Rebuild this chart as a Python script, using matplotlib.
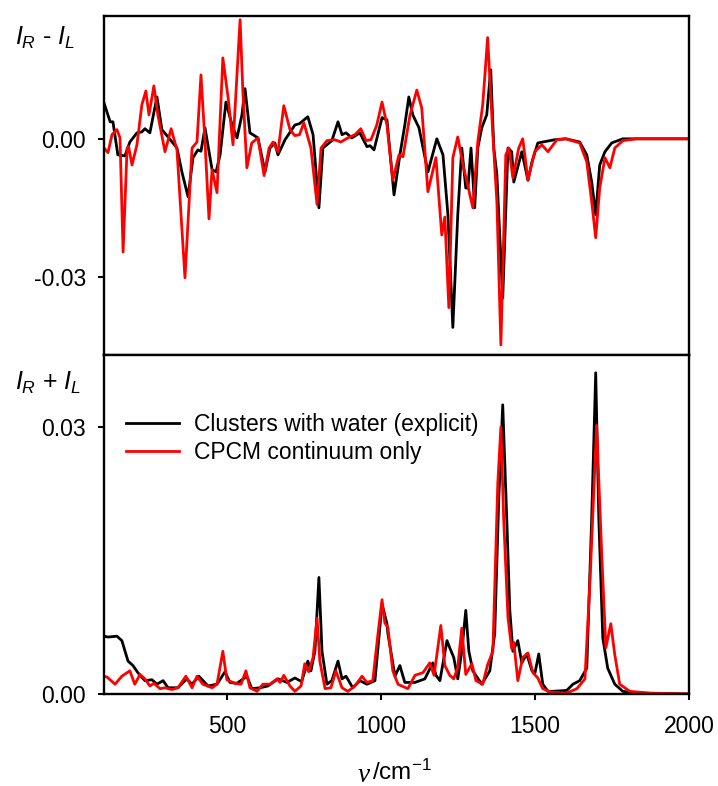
import matplotlib
matplotlib.use("Agg")
import matplotlib.pyplot as plt
import numpy as np

plt.rcParams['font.family'] = ['Liberation Sans', 'DejaVu Sans']
plt.rcParams['mathtext.fontset'] = 'custom'
plt.rcParams['mathtext.rm'] = 'Liberation Sans'
plt.rcParams['mathtext.it'] = 'Liberation Sans:italic'

# ---------------- data (wavenumber cm-1, intensity) ----------------
roa_explicit = [(100, 0.0078), (120, 0.0037), (129, 0.0037), (145, -0.0035), (168, -0.0037), (184, -0.0007),
                (207, 0.0013), (223, 0.0015), (233, 0.0022), (249, 0.0013), (272, 0.0091), (288, 0.0020),
                (308, 0.0004), (337, -0.0020), (353, -0.0072), (373, -0.0126), (389, -0.0041), (405, -0.0024),
                (415, -0.0027), (428, 0.0024), (451, -0.0067), (464, -0.0072), (477, -0.0035), (496, 0.0080),
                (516, 0.0030), (532, 0.0002), (548, 0.0052), (558, 0.0109), (574, 0.0013), (600, 0.0002),
                (623, -0.0072), (639, -0.0020), (655, -0.0009), (665, -0.0035), (688, -0.0002), (720, 0.0030),
                (735, 0.0033), (762, 0.0048), (779, 0.0009), (798, -0.0150), (811, -0.0020), (840, -0.0004),
                (860, 0.0037), (873, 0.0009), (886, 0.0013), (905, 0.0002), (931, 0.0013), (954, -0.0017),
                (964, -0.0015), (977, -0.0024), (1003, 0.0046), (1019, 0.0041), (1042, -0.0122), (1061, -0.0035),
                (1077, 0.0030), (1090, 0.0091), (1103, 0.0052), (1123, 0.0024), (1152, -0.0072), (1181, 0.0000),
                (1201, -0.0035), (1217, -0.0165), (1233, -0.0410), (1249, -0.0165), (1262, -0.0020), (1275, -0.0107),
                (1282, -0.0107), (1292, -0.0020), (1304, -0.0150), (1314, -0.0020), (1327, 0.0024), (1343, 0.0052),
                (1356, 0.0150), (1366, -0.0020), (1376, -0.0078), (1395, -0.0346), (1412, -0.0020), (1424, -0.0028),
                (1431, -0.0094), (1457, -0.0028), (1477, -0.0090), (1490, -0.0050), (1509, -0.0009), (1564, -0.0002),
                (1600, 0.0000), (1645, -0.0007), (1668, -0.0035), (1684, -0.0094), (1697, -0.0165), (1710, -0.0057),
                (1727, -0.0028), (1749, -0.0009), (1785, 0.0000), (2000, 0.0000)]

roa_cpcm = [(100, -0.0020), (113, -0.0030), (126, 0.0009), (142, 0.0020), (152, 0.0002), (162, -0.0246),
            (175, -0.0020), (180, -0.0017), (191, -0.0057), (207, -0.0013), (223, 0.0074), (236, 0.0104),
            (246, 0.0052), (262, 0.0115), (275, 0.0052), (298, -0.0028), (318, 0.0022), (337, -0.0024),
            (363, -0.0302), (386, -0.0020), (402, -0.0007), (415, 0.0139), (428, -0.0007), (441, -0.0174),
            (451, -0.0067), (467, -0.0117), (486, 0.0176), (503, 0.0090), (519, -0.0013), (542, 0.0259),
            (551, 0.0103), (564, -0.0063), (580, -0.0009), (600, 0.0002), (620, -0.0080), (636, -0.0020),
            (649, -0.0007), (665, -0.0028), (684, 0.0072), (704, 0.0020), (720, 0.0007), (735, 0.0009),
            (749, 0.0035), (772, -0.0020), (792, -0.0143), (805, -0.0020), (824, -0.0004), (850, -0.0002),
            (869, -0.0007), (892, 0.0002), (915, 0.0009), (934, 0.0022), (951, -0.0004), (967, -0.0002),
            (986, 0.0030), (1003, 0.0080), (1019, 0.0030), (1038, -0.0090), (1058, -0.0035), (1071, -0.0039),
            (1094, 0.0052), (1116, 0.0106), (1132, 0.0067), (1152, -0.0115), (1178, -0.0041), (1197, -0.0209),
            (1207, -0.0170), (1220, -0.0367), (1233, -0.0041), (1249, 0.0004), (1266, -0.0057), (1279, -0.0094),
            (1298, -0.0150), (1314, -0.0007), (1330, 0.0074), (1346, 0.0220), (1363, 0.0009), (1376, -0.0137),
            (1389, -0.0448), (1405, -0.0035), (1415, -0.0020), (1428, -0.0085), (1447, -0.0020), (1460, 0.0000),
            (1477, -0.0090), (1499, -0.0028), (1522, -0.0013), (1542, -0.0028), (1571, -0.0002), (1600, 0.0000),
            (1645, -0.0009), (1668, -0.0050), (1684, -0.0137), (1697, -0.0215), (1710, -0.0107), (1727, -0.0041),
            (1743, -0.0063), (1759, -0.0020), (1785, -0.0004), (1830, 0.0000), (2000, 0.0000)]

raman_explicit = [(100, 0.0065), (113, 0.0064), (142, 0.0065), (158, 0.0060), (178, 0.0037), (194, 0.0032),
                  (210, 0.0024), (233, 0.0015), (256, 0.0016), (272, 0.0011), (292, 0.0015), (308, 0.0007),
                  (340, 0.0007), (369, 0.0017), (386, 0.0011), (408, 0.0020), (438, 0.0009), (467, 0.0011),
                  (493, 0.0025), (509, 0.0013), (532, 0.0012), (564, 0.0020), (580, 0.0006), (607, 0.0007),
                  (632, 0.0009), (665, 0.0017), (694, 0.0013), (720, 0.0018), (742, 0.0014), (762, 0.0037),
                  (772, 0.0026), (785, 0.0048), (798, 0.0131), (808, 0.0048), (824, 0.0011), (840, 0.0015),
                  (860, 0.0037), (873, 0.0017), (886, 0.0020), (908, 0.0007), (931, 0.0015), (954, 0.0011),
                  (980, 0.0015), (1003, 0.0101), (1019, 0.0079), (1022, 0.0068), (1045, 0.0020), (1061, 0.0032),
                  (1077, 0.0013), (1110, 0.0013), (1142, 0.0017), (1168, 0.0035), (1178, 0.0021), (1191, 0.0015),
                  (1214, 0.0060), (1224, 0.0051), (1236, 0.0041), (1249, 0.0017), (1262, 0.0048), (1275, 0.0094),
                  (1285, 0.0048), (1298, 0.0026), (1327, 0.0011), (1353, 0.0026), (1369, 0.0068), (1382, 0.0218),
                  (1395, 0.0325), (1408, 0.0198), (1418, 0.0094), (1428, 0.0048), (1444, 0.0060), (1457, 0.0035),
                  (1473, 0.0045), (1490, 0.0026), (1500, 0.0024), (1512, 0.0045), (1525, 0.0011), (1542, 0.0003),
                  (1558, 0.0003), (1603, 0.0004), (1623, 0.0011), (1645, 0.0015), (1668, 0.0029), (1684, 0.0198),
                  (1697, 0.0361), (1707, 0.0198), (1720, 0.0063), (1736, 0.0029), (1759, 0.0011), (1785, 0.0003),
                  (1830, 0.0001), (2000, 0.0000)]

raman_cpcm = [(100, 0.0020), (110, 0.0019), (136, 0.0011), (158, 0.0020), (175, 0.0024), (184, 0.0026),
              (200, 0.0011), (217, 0.0022), (233, 0.0017), (249, 0.0009), (262, 0.0012), (282, 0.0006),
              (298, 0.0007), (321, 0.0005), (340, 0.0007), (366, 0.0020), (386, 0.0007), (402, 0.0020),
              (421, 0.0011), (451, 0.0007), (467, 0.0011), (486, 0.0048), (499, 0.0016), (525, 0.0012),
              (545, 0.0011), (561, 0.0026), (574, 0.0007), (597, 0.0003), (616, 0.0011), (639, 0.0011),
              (662, 0.0017), (672, 0.0013), (684, 0.0021), (704, 0.0009), (720, 0.0003), (740, 0.0009),
              (752, 0.0034), (765, 0.0025), (779, 0.0041), (792, 0.0085), (801, 0.0037), (818, 0.0006),
              (837, 0.0007), (853, 0.0026), (873, 0.0007), (892, 0.0003), (915, 0.0009), (938, 0.0020),
              (954, 0.0013), (973, 0.0015), (990, 0.0068), (1003, 0.0106), (1012, 0.0080), (1022, 0.0075),
              (1038, 0.0026), (1055, 0.0011), (1067, 0.0009), (1087, 0.0006), (1110, 0.0021), (1136, 0.0024),
              (1158, 0.0035), (1172, 0.0021), (1194, 0.0077), (1207, 0.0032), (1223, 0.0021), (1236, 0.0017),
              (1249, 0.0030), (1262, 0.0074), (1275, 0.0022), (1295, 0.0034), (1308, 0.0015), (1330, 0.0011),
              (1346, 0.0033), (1363, 0.0048), (1379, 0.0237), (1389, 0.0300), (1398, 0.0198), (1412, 0.0086),
              (1424, 0.0051), (1431, 0.0058), (1444, 0.0015), (1460, 0.0041), (1477, 0.0046), (1493, 0.0024),
              (1509, 0.0018), (1525, 0.0006), (1552, 0.0002), (1603, 0.0001), (1636, 0.0006), (1662, 0.0017),
              (1678, 0.0124), (1700, 0.0302), (1717, 0.0153), (1730, 0.0052), (1746, 0.0079), (1759, 0.0044),
              (1775, 0.0011), (1808, 0.0003), (1873, 0.0001), (2000, 0.0000)]

series_labels = ["Clusters with water (explicit)", "CPCM continuum only"]
series_colors = ["black", "#ff0000"]
x_ticks = [500, 1000, 1500, 2000]
roa_ticks = [-0.03, 0.00]
raman_ticks = [0.00, 0.03]

# ---------------- figure ----------------
W, H = 718, 786
fig = plt.figure(figsize=(W / 100, H / 100), dpi=100)

left = 104 / W
width = (689 - 104) / W
ax1 = fig.add_axes([left, 1 - 355 / H, width, (355 - 16) / H])
ax2 = fig.add_axes([left, 1 - 694 / H, width, (694 - 355) / H])

FS = 16.5
lw = 2.0

for ax in (ax1, ax2):
    for s in ax.spines.values():
        s.set_linewidth(1.7)
    ax.set_xlim(100, 2000)
    ax.set_xticks(x_ticks)
    ax.tick_params(axis='both', direction='out', length=4.5, width=1.5, labelsize=FS)
    ax.tick_params(axis='y', pad=8.5)
    ax.tick_params(axis='x', pad=10.5)

ax1.set_ylim(-0.047, 0.0267)
ax2.set_ylim(0.0, 0.0381)

for data, c, lab in zip([roa_explicit, roa_cpcm], series_colors, series_labels):
    a = np.array(data)
    ax1.plot(a[:, 0], a[:, 1], color=c, lw=lw, label=lab, solid_joinstyle='round')
for data, c, lab in zip([raman_explicit, raman_cpcm], series_colors, series_labels):
    a = np.array(data)
    ax2.plot(a[:, 0], a[:, 1], color=c, lw=lw, label=lab, solid_joinstyle='round')

ax1.set_yticks(roa_ticks)
ax1.set_yticklabels([f"{v:.2f}" for v in roa_ticks])
ax1.tick_params(axis='x', labelbottom=False)
ax2.set_yticks(raman_ticks)
ax2.set_yticklabels([f"{v:.2f}" for v in raman_ticks])

leg = ax2.legend(loc='upper left', bbox_to_anchor=(0.022, 0.855), frameon=False, fontsize=FS,
                 handlelength=2.3, handletextpad=0.65, labelspacing=0.2, borderaxespad=0.0)
for h in leg.get_lines():
    h.set_linewidth(2.0)

fig.text(15 / W, 1 - 38 / H, r'$I_R$ - $I_L$', fontsize=FS + 1.5, ha='left', va='center')
fig.text(15 / W, 1 - 383 / H, r'$I_R$ + $I_L$', fontsize=FS + 1.5, ha='left', va='center')

# x-axis label: italic serif nu + "/cm-1"
fig.text(370 / W, 1 - 775 / H, 'ν', fontsize=FS + 3, family='Liberation Serif', style='italic',
         ha='right', va='center')
fig.text(372 / W, 1 - 772 / H, r'$\mathit{/}$cm$^{-1}$', fontsize=FS + 1, ha='left', va='center')

fig.savefig('out.png', dpi=100)
